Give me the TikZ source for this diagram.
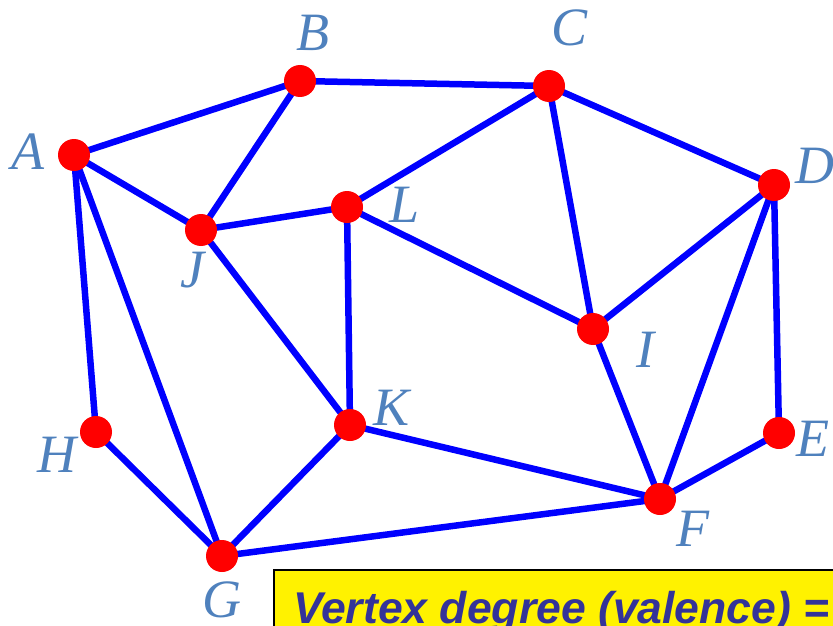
\documentclass[tikz,border=0pt]{standalone}
\usepackage{fontspec}
\setmainfont{Liberation Serif}
\newfontfamily\boxfont{Liberation Sans}
\definecolor{edgeblue}{RGB}{0,0,255}
\definecolor{labelblue}{RGB}{79,129,189}
\definecolor{boxtext}{RGB}{51,51,153}
\begin{document}
\begin{tikzpicture}[x=1pt,y=-1pt,
  vtx/.style={circle,fill=red,inner sep=0pt,minimum size=32pt},
  lbl/.style={text=labelblue,font=\fontsize{54}{54}\selectfont\itshape,inner sep=0pt},
  edge/.style={draw=edgeblue,line width=6.5pt}]
\useasboundingbox (0,0) rectangle (833,626);
\coordinate (A) at (74,155);
\coordinate (B) at (300,81);
\coordinate (C) at (549,86);
\coordinate (D) at (774,185);
\coordinate (E) at (779,433);
\coordinate (F) at (660,499);
\coordinate (G) at (222,556);
\coordinate (H) at (96,432);
\coordinate (I) at (593,329);
\coordinate (J) at (201,230);
\coordinate (K) at (350,425);
\coordinate (L) at (347,207);
\foreach \a/\b in {A/B,B/C,C/D,A/J,B/J,J/L,L/C,C/I,L/I,D/I,L/K,J/K,A/H,A/G,H/G,G/K,G/F,K/F,I/F,D/F,D/E,E/F}
  \draw[edge] (\a) -- (\b);
\foreach \v in {A,B,C,D,E,F,G,H,I,J,K,L}
  \node[vtx] (n\v) at (\v) {};
\node[lbl] (lA) at (28,152) {A};
\node[lbl] (lB) at (313,33) {B};
\node[lbl] (lC) at (570,28) {C};
\node[lbl] (lD) at (815,166) {D};
\node[lbl] (lE) at (813,439) {E};
\node[lbl] (lF) at (693,529) {F};
\node[lbl] (lG) at (222,600) {G};
\node[lbl] (lH) at (57,455) {H};
\node[lbl] (lI) at (645,350) {I};
\node[lbl] (lJ) at (192,270) {J};
\node[lbl] (lK) at (392,408) {K};
\node[lbl] (lL) at (405,205) {L};
\fill[yellow] (274,570) rectangle (840,640);
\draw[black,line width=1.5pt] (840,570) -- (274,570) -- (274,640);
\node[anchor=base west,inner sep=0pt,text=boxtext,font=\boxfont\fontsize{44.5}{44.5}\selectfont\bfseries\itshape] (boxlbl) at (293,623) {Vertex degree (valence) =};
\end{tikzpicture}
\end{document}
